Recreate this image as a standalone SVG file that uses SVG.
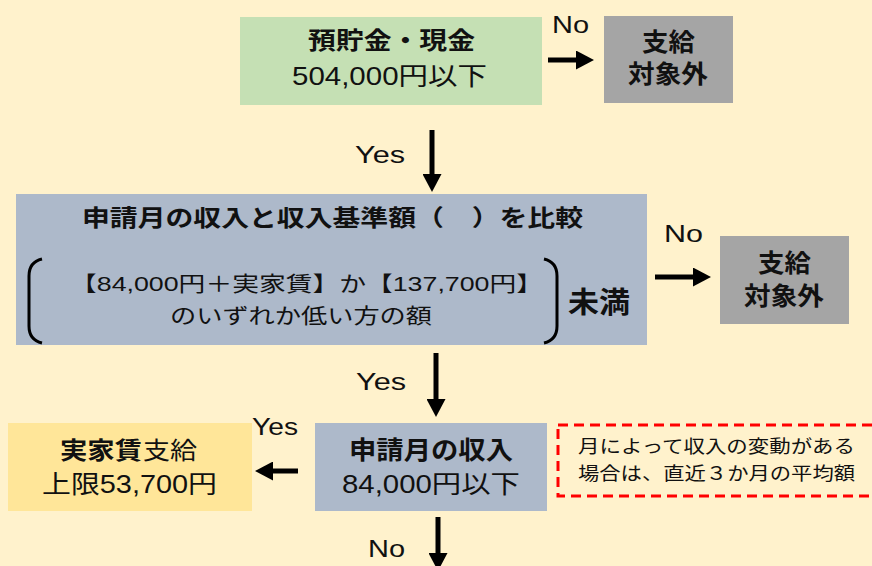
<svg xmlns="http://www.w3.org/2000/svg" width="872" height="566" viewBox="0 0 872 566">
<defs>
<style>
text{font-family:"Liberation Sans","Noto Sans CJK JP",sans-serif;fill:#111;}
.b{font-weight:bold;}
.lbl{font-size:24px;}
.conn line{stroke:#000;stroke-width:5;}
.br{fill:none;stroke:#000;stroke-width:3;}
</style>
<marker id="ah" viewBox="0 0 10 10" refX="0" refY="5" markerWidth="18" markerHeight="19" markerUnits="userSpaceOnUse" orient="auto" preserveAspectRatio="none"><path d="M0,0 L10,5 L0,10 z" fill="#000"/></marker>
</defs>
<rect width="872" height="566" fill="#FFF2CC"/>

<g id="savings">
<rect x="240" y="17" width="302" height="88" fill="#C5E0B4"/>
<text class="b" x="308" y="49" font-size="24" textLength="167" lengthAdjust="spacingAndGlyphs">預貯金・現金</text>
<text x="292" y="85" font-size="25" textLength="195" lengthAdjust="spacingAndGlyphs">504,000円以下</text>
</g>

<g id="out1">
<rect x="604" y="16" width="129" height="87" fill="#A5A5A5"/>
<text class="b" x="642" y="51" font-size="25" textLength="53" lengthAdjust="spacingAndGlyphs">支給</text>
<text class="b" x="628" y="83" font-size="25" textLength="80" lengthAdjust="spacingAndGlyphs">対象外</text>
</g>

<g id="compare">
<rect x="16" y="194" width="631" height="151" fill="#ADB9CA"/>
<text class="b" x="82" y="226" font-size="23" textLength="501" lengthAdjust="spacingAndGlyphs">申請月の収入と収入基準額（　）を比較</text>
<path class="br" d="M42,259 Q29,262 29,276 L29,326 Q29,340 42,343"/>
<path class="br" d="M544,259 Q557,262 557,276 L557,326 Q557,340 544,343"/>
<text x="70" y="291" font-size="21" textLength="473" lengthAdjust="spacingAndGlyphs">【84,000円＋実家賃】か【137,700円】</text>
<text x="170" y="323" font-size="21" textLength="262" lengthAdjust="spacingAndGlyphs">のいずれか低い方の額</text>
<text class="b" x="568" y="313" font-size="29" textLength="62" lengthAdjust="spacingAndGlyphs">未満</text>
</g>

<g id="out2">
<rect x="720" y="236" width="129" height="88" fill="#A5A5A5"/>
<text class="b" x="758" y="272" font-size="25" textLength="53" lengthAdjust="spacingAndGlyphs">支給</text>
<text class="b" x="744" y="305" font-size="25" textLength="80" lengthAdjust="spacingAndGlyphs">対象外</text>
</g>

<g id="income">
<rect x="315" y="423" width="232" height="88" fill="#ADB9CA"/>
<text class="b" x="349" y="459" font-size="25" textLength="164" lengthAdjust="spacingAndGlyphs">申請月の収入</text>
<text x="342" y="493" font-size="25" textLength="178" lengthAdjust="spacingAndGlyphs">84,000円以下</text>
</g>

<g id="note">
<rect x="558" y="425" width="320" height="71" fill="none" stroke="#FF0000" stroke-width="3" stroke-dasharray="10 6"/>
<text x="578" y="453" font-size="18" textLength="277" lengthAdjust="spacingAndGlyphs">月によって収入の変動がある</text>
<text x="578" y="480" font-size="18" textLength="277" lengthAdjust="spacingAndGlyphs">場合は、直近３か月の平均額</text>
</g>

<g id="rent">
<rect x="8" y="423" width="244" height="88" fill="#FFE699"/>
<text y="459" font-size="24"><tspan class="b" x="60" textLength="82" lengthAdjust="spacingAndGlyphs">実家賃</tspan><tspan x="143" textLength="54" lengthAdjust="spacingAndGlyphs">支給</tspan></text>
<text x="42" y="493" font-size="25" textLength="175" lengthAdjust="spacingAndGlyphs">上限53,700円</text>
</g>

<g id="connectors" class="conn">
<line x1="548" y1="60" x2="576" y2="60" marker-end="url(#ah)"/>
<text class="lbl" x="552" y="33" textLength="37" lengthAdjust="spacingAndGlyphs">No</text>
<line x1="432" y1="130" x2="432" y2="174" marker-end="url(#ah)"/>
<text class="lbl" x="355" y="163" font-size="27" textLength="50" lengthAdjust="spacingAndGlyphs">Yes</text>
<line x1="655" y1="277" x2="693" y2="277" marker-end="url(#ah)"/>
<text class="lbl" x="664" y="242" textLength="39" lengthAdjust="spacingAndGlyphs">No</text>
<line x1="436" y1="353" x2="436" y2="399" marker-end="url(#ah)"/>
<text class="lbl" x="356" y="390" font-size="26" textLength="50" lengthAdjust="spacingAndGlyphs">Yes</text>
<line x1="298" y1="471" x2="273" y2="471" marker-end="url(#ah)"/>
<text class="lbl" x="252" y="435" font-size="26" textLength="46" lengthAdjust="spacingAndGlyphs">Yes</text>
<line x1="438" y1="517" x2="438" y2="553" marker-end="url(#ah)"/>
<text class="lbl" x="368" y="557" font-size="26" textLength="37" lengthAdjust="spacingAndGlyphs">No</text>
</g>
</svg>
